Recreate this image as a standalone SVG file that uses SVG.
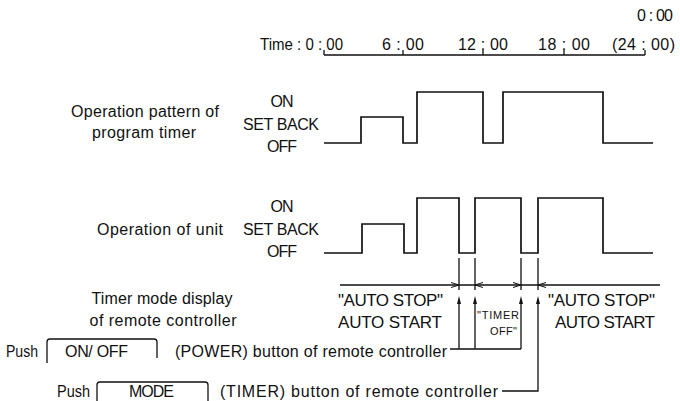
<svg xmlns="http://www.w3.org/2000/svg" width="680" height="401" viewBox="0 0 680 401">
<style>
text{font-family:"Liberation Sans",Arial,sans-serif;fill:#111;font-size:16px}
.big{font-size:17px}
.sm{font-size:11px}
.ln{fill:none;stroke:#111;stroke-width:1.3}
.wv{fill:none;stroke:#111;stroke-width:1.7}
.oa{fill:none;stroke:#111;stroke-width:1}
.fa{fill:#111;stroke:none}
</style>
<rect width="680" height="401" fill="#fff"/>
<g id="time-axis">
<text x="260" y="50" textLength="83" lengthAdjust="spacingAndGlyphs">Time : 0 : 00</text>
<text x="382" y="50" textLength="42" lengthAdjust="spacing">6 : 00</text>
<text x="458" y="50" textLength="50" lengthAdjust="spacing">12 : 00</text>
<text x="538" y="50" textLength="52" lengthAdjust="spacing">18 : 00</text>
<text x="612" y="50" textLength="63" lengthAdjust="spacing">(24 : 00)</text>
<text x="637" y="21" textLength="36" lengthAdjust="spacing">0 : 00</text>
<path class="ln" d="M324,55 H645 M324,50 V55 M403,50 V55 M483,50 V55 M564,50 V55 M645,50 V55"/>
</g>
<g id="program-timer">
<text x="145" y="117" text-anchor="middle" textLength="148" lengthAdjust="spacing">Operation pattern of</text>
<text x="144" y="138" text-anchor="middle" textLength="104" lengthAdjust="spacing">program timer</text>
<text x="282" y="107" text-anchor="middle" textLength="23" lengthAdjust="spacing">ON</text>
<text x="243" y="130" textLength="76" lengthAdjust="spacing">SET BACK</text>
<text x="282" y="152" text-anchor="middle" textLength="30" lengthAdjust="spacing">OFF</text>
<path class="wv" d="M324,143 H361 V117 H403 V143 H417 V92 H483 V143 H503 V92 H603 V143 H653"/>
</g>
<g id="unit">
<text x="160" y="235" text-anchor="middle" textLength="126" lengthAdjust="spacing">Operation of unit</text>
<text x="282" y="212" text-anchor="middle" textLength="23" lengthAdjust="spacing">ON</text>
<text x="243" y="235" textLength="76" lengthAdjust="spacing">SET BACK</text>
<text x="282" y="257" text-anchor="middle" textLength="30" lengthAdjust="spacing">OFF</text>
<path class="wv" d="M324,253 H362 V224 H404 V253 H417 V198 H459 V253 H475 V198 H521 V253 H538 V198 H603 V253 H653"/>
</g>
<g id="timer-mode-display">
<text x="162" y="304" text-anchor="middle" textLength="141" lengthAdjust="spacing">Timer mode display</text>
<text x="163" y="326" text-anchor="middle" textLength="147" lengthAdjust="spacing">of remote controller</text>
<text class="big" x="338" y="306" textLength="105" lengthAdjust="spacing">"AUTO STOP"</text>
<text class="big" x="338" y="328" textLength="104" lengthAdjust="spacing">AUTO START</text>
<text class="big" x="548" y="306" textLength="107" lengthAdjust="spacing">"AUTO STOP"</text>
<text class="big" x="555" y="328" textLength="100" lengthAdjust="spacing">AUTO START</text>
<text class="sm" x="477" y="319" textLength="42" lengthAdjust="spacing">"TIMER</text>
<text class="sm" x="490" y="335" textLength="27" lengthAdjust="spacing">OFF"</text>
</g>
<g id="power-button">
<text x="6" y="357" textLength="32" lengthAdjust="spacingAndGlyphs">Push</text>
<path class="ln" d="M47,363 V342 Q47,339 50,339 H154 Q157,339 157,342 V358"/>
<text x="65" y="357" textLength="63" lengthAdjust="spacing">ON/ OFF</text>
<text x="175" y="357" textLength="272" lengthAdjust="spacing">(POWER) button of remote controller</text>
</g>
<g id="mode-button">
<text x="57" y="397" textLength="33" lengthAdjust="spacingAndGlyphs">Push</text>
<path class="ln" d="M97,401 V385 Q97,382 100,382 H205 Q208,382 208,385 V401"/>
<text x="129" y="397" textLength="45" lengthAdjust="spacing">MODE</text>
<text x="220" y="397" textLength="278" lengthAdjust="spacing">(TIMER) button of remote controller</text>
</g>
<g id="connectors">
<path class="ln" d="M459,258 V290 M475,258 V290 M521,258 V290 M538,258 V290"/>
<path class="ln" d="M340,285 H660"/>
<path class="oa" d="M451,282.5 L459,285 L451,287.5 M483,282.5 L475,285 L483,287.5 M513,282.5 L521,285 L513,287.5 M546,282.5 L538,285 L546,287.5"/>
<path class="ln" d="M459,303 V349 M475,303 V349 M521,303 V349 M450,349 H521 M538,303 V391 H502"/>
<path class="fa" d="M459,296 L457,304 L461,304 Z M475,296 L473,304 L477,304 Z M521,296 L519,304 L523,304 Z M538,296 L536,304 L540,304 Z"/>
</g>
</svg>
